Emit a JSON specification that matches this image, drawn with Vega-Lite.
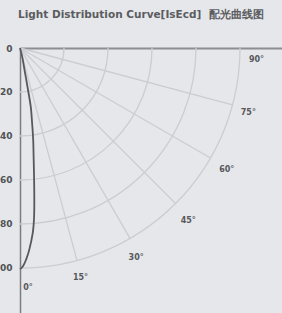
{
  "$schema": "https://vega.github.io/schema/vega-lite/v6.json",
  "width": 262,
  "height": 265,
  "autosize": "none",
  "padding": {"left": 20, "top": 48, "right": 0, "bottom": 0},
  "background": "#e6e7ea",
  "title": {
    "text": "Light Distribution Curve[IsEcd]\u00a0\u00a0配光曲线图",
    "anchor": "start",
    "frame": "group",
    "dx": -2,
    "offset": 24,
    "fontSize": 10.5,
    "fontWeight": "bold",
    "font": "DejaVu Sans",
    "color": "#5a5c60"
  },
  "config": {"view": {"stroke": null}},
  "datasets": {
    "arcs": [{"r": 20}, {"r": 40}, {"r": 60}, {"r": 80}, {"r": 100}],
    "spokes": [
      {"angle": 15, "x0": 0, "y0": 0, "x1": 25.88, "y1": 96.59},
      {"angle": 30, "x0": 0, "y0": 0, "x1": 50.0, "y1": 86.6},
      {"angle": 45, "x0": 0, "y0": 0, "x1": 70.71, "y1": 70.71},
      {"angle": 60, "x0": 0, "y0": 0, "x1": 86.6, "y1": 50.0},
      {"angle": 75, "x0": 0, "y0": 0, "x1": 96.59, "y1": 25.88}
    ],
    "labels": [
      {"label": "0°", "x": 3.6, "y": 109.1},
      {"label": "15°", "x": 27.5, "y": 104.7},
      {"label": "30°", "x": 52.8, "y": 95.6},
      {"label": "45°", "x": 76.5, "y": 78.5},
      {"label": "60°", "x": 94, "y": 55.5},
      {"label": "75°", "x": 103.8, "y": 29.4},
      {"label": "90°", "x": 107.5, "y": 5.5}
    ],
    "curve": [
      {"i": 0, "x": 0, "y": 0},
      {"i": 1, "x": 1.1, "y": 4.5},
      {"i": 2, "x": 2.3, "y": 11.4},
      {"i": 3, "x": 3.5, "y": 18.2},
      {"i": 4, "x": 4.9, "y": 26.8},
      {"i": 5, "x": 5.5, "y": 34.1},
      {"i": 6, "x": 6.0, "y": 41.8},
      {"i": 7, "x": 6.2, "y": 50.0},
      {"i": 8, "x": 6.4, "y": 59.1},
      {"i": 9, "x": 6.5, "y": 68.2},
      {"i": 10, "x": 6.4, "y": 76.8},
      {"i": 11, "x": 5.8, "y": 84.1},
      {"i": 12, "x": 4.2, "y": 91.8},
      {"i": 13, "x": 2.7, "y": 96.4},
      {"i": 14, "x": 1.4, "y": 99.1},
      {"i": 15, "x": 0, "y": 100.5}
    ]
  },
  "encoding": {
    "x": {
      "type": "quantitative",
      "scale": {"domain": [0, 119.1], "nice": false, "zero": false},
      "axis": {"orient": "top", "title": null, "labels": false, "ticks": false, "grid": false, "domain": true, "domainColor": "#8c8e92", "domainWidth": 2}
    },
    "y": {
      "type": "quantitative",
      "scale": {"domain": [0, 120.5], "nice": false, "zero": false, "reverse": true},
      "axis": {"orient": "left", "title": null, "values": [0, 20, 40, 60, 80, 100], "ticks": false, "grid": false, "domain": true, "domainColor": "#7a7c80", "domainWidth": 1.5, "labelPadding": 8, "labelFontSize": 9, "labelFont": "DejaVu Sans", "labelFontWeight": "bold", "labelColor": "#505256"}
    }
  },
  "layer": [
    {
      "data": {"name": "arcs"},
      "mark": {"type": "arc", "filled": false, "stroke": "#cbcdd1", "strokeWidth": 1.3, "theta": 1.5708, "theta2": 3.1416},
      "encoding": {
        "x": {"datum": 0, "type": "quantitative"},
        "y": {"datum": 0, "type": "quantitative"},
        "radius": {"field": "r", "type": "quantitative", "scale": {"type": "linear", "domain": [0, 100], "range": [0, 220], "zero": true}, "legend": null},
        "radius2": {"field": "r"}
      }
    },
    {
      "data": {"name": "spokes"},
      "mark": {"type": "rule", "stroke": "#cbcdd1", "strokeWidth": 1.3},
      "encoding": {
        "x": {"field": "x0", "type": "quantitative"},
        "y": {"field": "y0", "type": "quantitative"},
        "x2": {"field": "x1"},
        "y2": {"field": "y1"}
      }
    },
    {
      "data": {"name": "labels"},
      "mark": {"type": "text", "fontSize": 8, "font": "DejaVu Sans", "fontWeight": "bold", "color": "#56585c", "align": "center", "baseline": "middle", "clip": false},
      "encoding": {
        "x": {"field": "x", "type": "quantitative"},
        "y": {"field": "y", "type": "quantitative"},
        "text": {"field": "label"}
      }
    },
    {
      "data": {"name": "curve"},
      "mark": {"type": "line", "stroke": "#55585d", "strokeWidth": 1.8, "interpolate": "cardinal"},
      "encoding": {
        "x": {"field": "x", "type": "quantitative"},
        "y": {"field": "y", "type": "quantitative"},
        "order": {"field": "i", "type": "quantitative"}
      }
    }
  ]
}
